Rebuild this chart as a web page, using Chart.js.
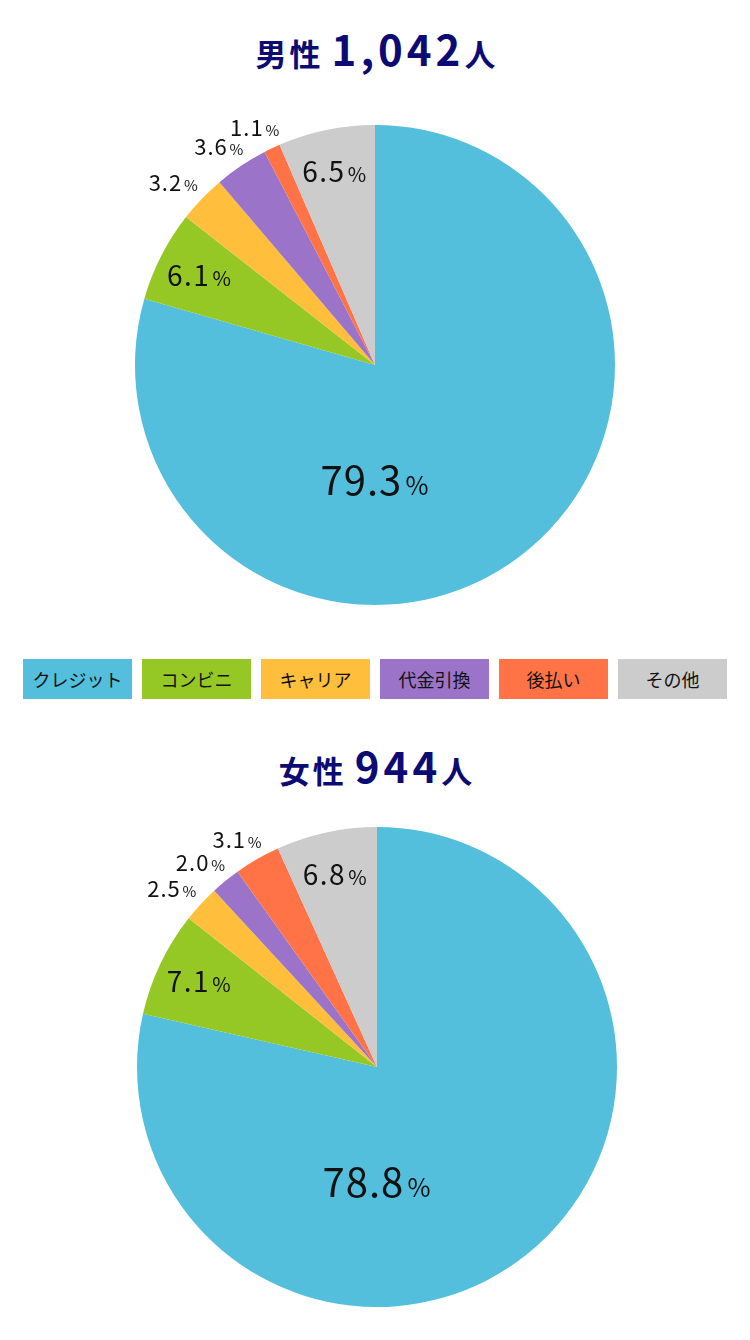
<!DOCTYPE html>
<html lang="ja">
<head>
<meta charset="utf-8">
<script src="https://cdn.jsdelivr.net/npm/chart.js@4/dist/chart.umd.min.js"></script>
<style>
  html, body { margin: 0; padding: 0; background: #fff; }
  body { width: 750px; height: 1340px; position: relative; overflow: hidden;
         font-family: "Noto Sans CJK JP", "Noto Sans", sans-serif; }
  .title { position: absolute; left: 0; width: 754px; text-align: center; color: #0c0a73;
           font-weight: bold; line-height: 1; white-space: nowrap; letter-spacing: 3px; }
  .title .s { font-size: 31px; }
  .title .n { font-size: 42px; margin-left: 8px; letter-spacing: 4px; }
  .chartBox { position: absolute; left: 0; width: 750px; height: 530px; }
  #legend { position: absolute; top: 659px; left: 23px; display: flex; gap: 10px; }
  #legend div { width: 109px; height: 40px; line-height: 40px; text-align: center;
                font-size: 18px; color: #111; }
</style>
</head>
<body>
<div class="title" id="t1" style="top:27px"></div>
<div class="chartBox" style="top:100px"><canvas id="maleChart"></canvas></div>
<div id="legend"></div>
<div class="title" id="t2" style="top:744px"></div>
<div class="chartBox" style="top:802px"><canvas id="femaleChart"></canvas></div>

<script>
const categories = ['クレジット', 'コンビニ', 'キャリア', '代金引換', '後払い', 'その他'];
const maleValues = [79.3, 6.1, 3.2, 3.6, 1.1, 6.5];
const femaleValues = [78.8, 7.1, 2.5, 2.0, 3.1, 6.8];
const colors = ['#53bfdc', '#96c825', '#ffbe3c', '#9b73c8', '#ff7346', '#cccccc'];
const maleTitle = ['男性', '1,042', '人'];
const femaleTitle = ['女性', '944', '人'];

function setTitle(id, parts) {
  document.getElementById(id).innerHTML =
    `<span class="s">${parts[0]}</span><span class="n">${parts[1]}</span><span class="s">${parts[2]}</span>`;
}
setTitle('t1', maleTitle);
setTitle('t2', femaleTitle);

const legend = document.getElementById('legend');
categories.forEach((c, i) => {
  const d = document.createElement('div');
  d.textContent = c;
  d.style.background = colors[i];
  legend.appendChild(d);
});

// draws "xx.x%" labels on the slices
const pieLabels = {
  id: 'pieLabels',
  afterDatasetsDraw(chart) {
    const ctx = chart.ctx;
    const meta = chart.getDatasetMeta(0);
    const values = chart.data.datasets[0].data;
    const font = '"Noto Sans CJK JP", "Noto Sans", sans-serif';
    meta.data.forEach((arc, i) => {
      const p = arc.getProps(['x', 'y', 'startAngle', 'endAngle', 'outerRadius']);
      const r = p.outerRadius;
      const mid = (p.startAngle + p.endAngle) / 2;
      const dx = Math.cos(mid), dy = Math.sin(mid);
      let big, small, spacing;
      if (i === 0) { big = 40; small = 25; spacing = 1; }
      else if (values[i] >= 5) { big = 28; small = 20; spacing = 1.5; }
      else { big = 22; small = 15; spacing = 1; }

      const num = values[i].toFixed(1);
      ctx.save();
      ctx.fillStyle = '#111';
      ctx.textBaseline = 'alphabetic';
      ctx.textAlign = 'left';
      ctx.letterSpacing = spacing + 'px';
      ctx.font = `${big}px ${font}`;
      const w1 = ctx.measureText(num).width;
      ctx.font = `${small}px ${font}`;
      const w2 = ctx.measureText('%').width;
      const gap = big * 0.08;
      const w = w1 + gap + w2;
      const h = big * 0.75;

      let x, y;
      if (i === 0) {
        x = p.x; y = p.y + r * 0.48;
      } else if (values[i] >= 5) {
        x = p.x + dx * r * 0.82; y = p.y + dy * r * 0.82;
      } else {
        // outside, box pushed away from the edge like datalabels anchor/align 'end'
        x = p.x + dx * (r + 14) + dx * w / 2;
        y = p.y + dy * (r + 14) + dy * h / 2;
      }
      const left = x - w / 2;
      const base = y + big * 0.36;
      ctx.font = `${big}px ${font}`;
      ctx.fillText(num, left, base);
      ctx.font = `${small}px ${font}`;
      ctx.fillText('%', left + w1 + gap, base);
      ctx.restore();
    });
  }
};

function makePie(id, values, padding) {
  new Chart(document.getElementById(id), {
    type: 'pie',
    data: {
      labels: categories,
      datasets: [{
        data: values,
        backgroundColor: colors,
        borderWidth: 0
      }]
    },
    options: {
      responsive: true,
      maintainAspectRatio: false,
      animation: false,
      layout: { padding: padding },
      plugins: {
        legend: { display: false },
        tooltip: { enabled: false }
      }
    },
    plugins: [pieLabels]
  });
}

makePie('maleChart', maleValues, { top: 25, bottom: 25, left: 25, right: 25 });
makePie('femaleChart', femaleValues, { top: 25, bottom: 25, left: 29, right: 25 });
</script>
</body>
</html>
